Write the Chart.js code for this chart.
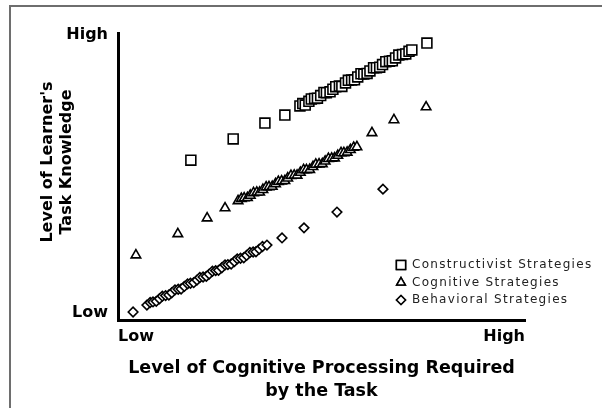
<!DOCTYPE html>
<html><head><meta charset="utf-8">
<script src="https://cdn.jsdelivr.net/npm/chart.js@4.4.1/dist/chart.umd.min.js"></script>
<style>html,body{margin:0;padding:0;background:#fff;}canvas{display:block;}</style>
</head><body>
<canvas id="c" width="602" height="408"></canvas>
<script>
const seriesNames = ['Constructivist Strategies', 'Cognitive Strategies', 'Behavioral Strategies'];

const constructivistX = [17.9, 28.3, 36.1, 41.0,
  44.7, 45.4, 46.0, 46.9, 47.5, 48.3, 49.0, 49.8, 50.6, 51.2, 52.1, 52.8, 53.5, 54.4, 55.0, 55.9,
  56.6, 57.4, 58.1, 58.9, 59.7, 60.4, 61.2, 61.9, 62.8, 63.5, 64.3, 65.0, 65.8, 66.7, 67.4, 68.2,
  69.0, 69.9, 70.7, 71.5, 72.2, 75.9];
const constructivistY = [55.7, 63.1, 68.6, 71.4,
  74.6, 75.4, 74.9, 76.2, 77.0, 77.2, 77.3, 78.2, 79.3, 79.2, 79.5, 80.4, 81.3, 81.5, 81.4, 82.6,
  83.5, 83.6, 83.7, 84.7, 85.8, 85.7, 85.9, 86.8, 87.9, 87.9, 88.1, 89.0, 90.0, 90.2, 90.3, 91.3,
  92.3, 92.5, 92.7, 93.6, 94.1, 96.5];

const cognitiveX = [4.4, 14.7, 21.9, 26.3,
  29.5, 30.3, 31.0, 31.8, 32.5, 33.3, 34.1, 34.8, 35.6, 36.4, 37.1, 37.9, 38.7, 39.4, 40.2, 41.0,
  41.7, 42.5, 43.3, 44.0, 44.8, 45.6, 46.3, 47.1, 47.9, 48.6, 49.4, 50.2, 50.9, 51.7, 52.5, 53.2,
  54.0, 54.8, 55.5, 56.3, 57.1, 57.9, 58.7, 62.4, 67.8, 75.7];
const cognitiveY = [22.6, 30.0, 35.5, 39.0,
  41.5, 42.3, 42.5, 42.6, 43.4, 44.3, 44.5, 44.5, 45.4, 46.3, 46.4, 46.5, 47.4, 48.2, 48.4, 48.5,
  49.4, 50.3, 50.4, 50.4, 51.4, 52.3, 52.3, 52.4, 53.4, 54.2, 54.3, 54.4, 55.3, 56.2, 56.3, 56.4,
  57.3, 58.2, 58.2, 58.4, 59.3, 60.1, 60.3, 65.2, 69.7, 74.2];

const behavioralX = [3.7,
  7.1, 7.9, 8.6, 9.4, 10.2, 10.9, 11.7, 12.5, 13.2, 14.0, 14.8, 15.5, 16.3, 17.1, 17.8, 18.6, 19.4,
  20.1, 20.9, 21.7, 22.4, 23.2, 24.0, 24.7, 25.5, 26.3, 27.0, 27.8, 28.6, 29.3, 30.1, 30.9, 31.6,
  32.4, 33.2, 33.9, 34.7, 35.5, 36.6, 40.3, 45.7, 53.8, 65.1];
const behavioralY = [2.8,
  5.2, 6.1, 6.3, 6.5, 7.4, 8.3, 8.5, 8.7, 9.5, 10.5, 10.7, 10.8, 11.7, 12.6, 12.8, 13.0, 13.9,
  14.8, 15.0, 15.2, 16.0, 17.0, 17.2, 17.3, 18.2, 19.2, 19.3, 19.5, 20.4, 21.3, 21.5, 21.7, 22.5,
  23.5, 23.7, 23.8, 24.7, 25.6, 26.1, 28.6, 32.1, 37.6, 45.6];

const xTickLabels = ['Low', 'High'];
const yTickLabels = ['Low', 'High'];
const xTitle = ['Level of Cognitive Processing Required', 'by the Task'];
const yTitle = ["Level of Learner's", 'Task Knowledge'];

function pts(xs, ys) { return xs.map((x, i) => ({ x: x, y: ys[i] })); }

const markerStyles = [
  { pointStyle: 'rect', radius: 7 },
  { pointStyle: 'triangle', radius: 5.5 },
  { pointStyle: 'rectRot', radius: 4.8 }
];

const boldFont = 'DejaVu Sans';

const framePlugin = {
  id: 'frame',
  beforeDraw(chart) {
    const ctx = chart.ctx;
    ctx.save();
    ctx.fillStyle = '#fff';
    ctx.fillRect(0, 0, chart.width, chart.height);
    ctx.strokeStyle = '#6e6e6e';
    ctx.lineWidth = 2;
    ctx.beginPath();
    ctx.moveTo(10, chart.height);
    ctx.lineTo(10, 6);
    ctx.lineTo(chart.width, 6);
    ctx.stroke();
    ctx.restore();
  }
};

const yTitlePlugin = {
  id: 'yTitle',
  afterDraw(chart) {
    const ctx = chart.ctx;
    ctx.save();
    ctx.translate(48, 162);
    ctx.rotate(-Math.PI / 2);
    ctx.font = 'bold 16px "' + boldFont + '"';
    ctx.fillStyle = '#000';
    ctx.textAlign = 'center';
    ctx.textBaseline = 'middle';
    ctx.fillText(yTitle[0], 0, 0);
    ctx.fillText(yTitle[1], 0, 19);
    ctx.restore();
  }
};

const legendPlugin = {
  id: 'customLegend',
  afterDraw(chart) {
    const ctx = chart.ctx;
    const x0 = 401, y0 = 265, step = 17.5;
    ctx.save();
    seriesNames.forEach((name, i) => {
      const y = y0 + i * step;
      ctx.fillStyle = '#fff';
      ctx.strokeStyle = '#000';
      ctx.lineWidth = 1.5;
      Chart.helpers.drawPoint(ctx, {
        pointStyle: markerStyles[i].pointStyle,
        radius: [6.5, 5, 4.5][i],
        borderWidth: 1.5
      }, x0, y);
      ctx.fill();
      ctx.stroke();
      ctx.font = '12px "DejaVu Sans"';
      try { ctx.letterSpacing = '1.3px'; } catch (e) {}
      ctx.fillStyle = '#222';
      ctx.textAlign = 'left';
      ctx.textBaseline = 'middle';
      ctx.fillText(name, 412, y);
      try { ctx.letterSpacing = '0px'; } catch (e) {}
    });
    ctx.restore();
  }
};

const seriesX = [constructivistX, cognitiveX, behavioralX];
const seriesY = [constructivistY, cognitiveY, behavioralY];

new Chart(document.getElementById('c'), {
  type: 'scatter',
  data: {
    datasets: seriesNames.map((name, i) => ({
      label: name,
      data: pts(seriesX[i], seriesY[i]),
      pointStyle: markerStyles[i].pointStyle,
      pointRadius: markerStyles[i].radius,
      pointBackgroundColor: '#fff',
      pointBorderColor: '#000',
      pointBorderWidth: 1.6,
      showLine: false
    }))
  },
  options: {
    responsive: false,
    animation: false,
    devicePixelRatio: 1,
    layout: { padding: { top: 33, left: 0, right: 77, bottom: 0 } },
    plugins: { legend: { display: false }, tooltip: { enabled: false } },
    scales: {
      x: {
        type: 'linear', min: 0, max: 100,
        afterBuildTicks: s => { s.ticks = [{ value: 0 }, { value: 100 }]; },
        afterFit: s => { s.height = 88; s.paddingLeft = 0; s.paddingRight = 0; },
        grid: { display: false, drawTicks: false },
        border: { display: true, width: 3, color: '#000' },
        ticks: {
          align: 'inner', padding: 7, maxRotation: 0, autoSkip: false, color: '#000',
          font: { family: boldFont, weight: 'bold', size: 16 },
          callback: (v, i) => xTickLabels[i]
        },
        title: {
          display: true, text: xTitle, color: '#000',
          font: { family: boldFont, weight: 'bold', size: 17.5, lineHeight: 1.31 },
          padding: { top: 0, bottom: 5.5 }
        }
      },
      y: {
        type: 'linear', min: 0, max: 100,
        afterBuildTicks: s => { s.ticks = [{ value: 2.4 }, { value: 99.3 }]; },
        afterFit: s => { s.width = 118; s.paddingTop = 0; s.paddingBottom = 0; },
        grid: { display: false, drawTicks: false },
        border: { display: true, width: 3, color: '#000' },
        ticks: {
          padding: 10, autoSkip: false, color: '#000',
          font: { family: boldFont, weight: 'bold', size: 16 },
          callback: (v, i) => yTickLabels[i]
        },
        title: { display: false }
      }
    }
  },
  plugins: [framePlugin, yTitlePlugin, legendPlugin]
});
</script>
</body></html>
